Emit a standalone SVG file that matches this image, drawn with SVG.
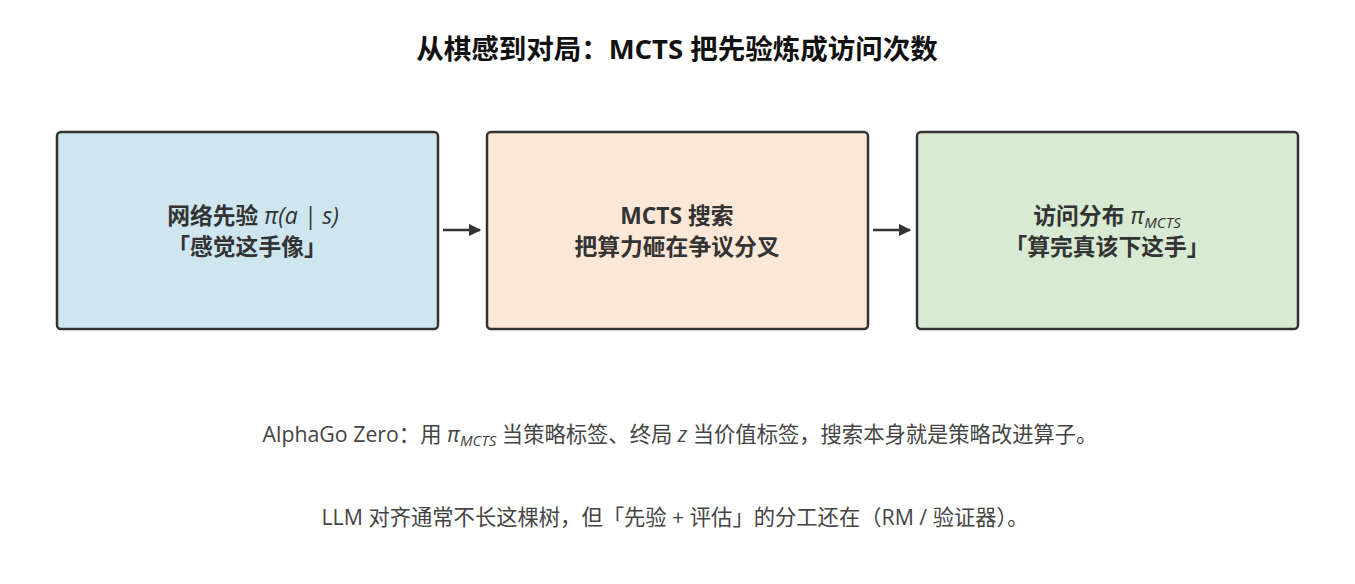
<svg xmlns="http://www.w3.org/2000/svg" width="1355" height="584" viewBox="0 0 1355 584">
<style>
text{font-family:"Open Sans","Noto Sans CJK SC",sans-serif;fill:#333;text-anchor:middle}
.t{font-size:27.5px;font-weight:bold;fill:#111}
.b{font-size:22.8px;font-weight:bold}
.m{font-weight:normal;font-style:italic;font-size:23px}
.n{font-size:21.3px;fill:#444}
.box{stroke:#333;stroke-width:2.5}
</style>
<defs><marker id="a" viewBox="0 0 10 10" refX="9" refY="5" markerWidth="5" markerHeight="5" orient="auto"><path d="M0 0L10 5L0 10z" fill="#333"/></marker></defs>
<rect width="1355" height="584" fill="#fff"/>
<text class="t" x="677" y="59">从棋感到对局：MCTS 把先验炼成访问次数</text>
<g id="n1"><rect class="box" x="57" y="132" width="381" height="197" rx="4" fill="#cde6f0"/>
<text class="b" x="253" y="224">网络先验 <tspan class="m">π(a | s)</tspan></text>
<text class="b" x="247" y="255">「感觉这手像」</text></g>
<g id="n2"><rect class="box" x="487" y="132" width="381" height="197" rx="4" fill="#fde7d6"/>
<text class="b" x="677" y="224">MCTS 搜索</text>
<text class="b" x="677" y="255">把算力砸在争议分叉</text></g>
<g id="n3"><rect class="box" x="917" y="132" width="381" height="197" rx="4" fill="#d8ead2"/>
<text class="b" x="1107" y="224">访问分布 <tspan class="m">π<tspan font-size="15" dy="4">MCTS</tspan></tspan></text>
<text class="b" x="1107" y="255">「算完真该下这手」</text></g>
<g id="edges" stroke="#333" stroke-width="2.5" marker-end="url(#a)">
<line x1="443" y1="230" x2="480" y2="230"/>
<line x1="873" y1="230" x2="910" y2="230"/>
</g>
<text class="n" x="680" y="442">AlphaGo Zero：用 <tspan font-style="italic">π<tspan font-size="15" dy="4">MCTS</tspan></tspan><tspan dy="-4"> 当策略标签、终局 </tspan><tspan font-style="italic">z</tspan> 当价值标签，搜索本身就是策略改进算子。</text>
<text class="n" x="675" y="525">LLM 对齐通常不长这棵树，但「先验 + 评估」的分工还在（RM / 验证器）。</text>
</svg>
